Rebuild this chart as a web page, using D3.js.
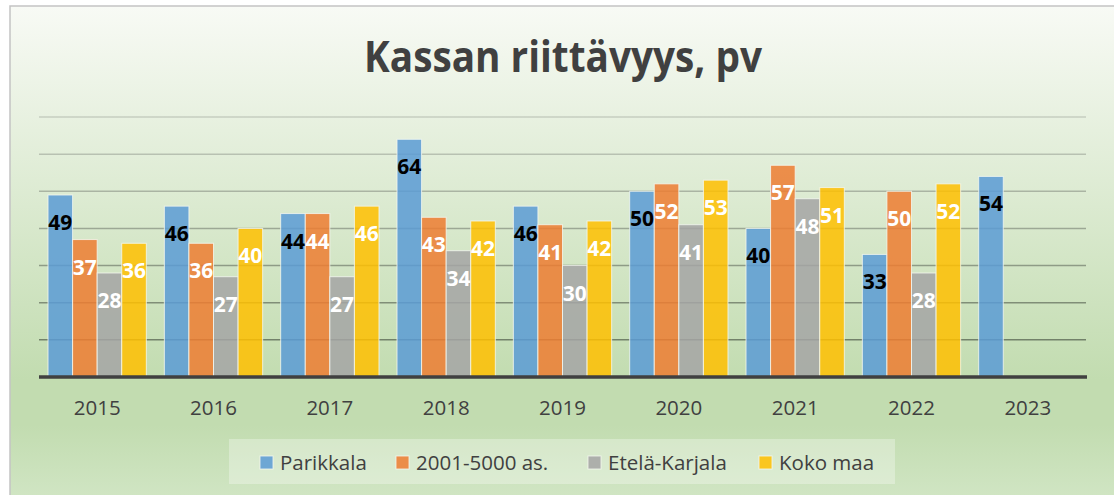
<!DOCTYPE html>
<html>
<head>
<meta charset="utf-8">
<script src="https://cdn.jsdelivr.net/npm/d3@7/dist/d3.min.js"></script>
<style>
  body { margin: 0; background: #fff; }
  svg { display: block; font-family: 'Open Sans', sans-serif; }
</style>
</head>
<body>
<svg id="chart"></svg>
<script>
var width = 1114;
var height = 495;

var years = ['2015', '2016', '2017', '2018', '2019', '2020', '2021', '2022', '2023'];
var seriesNames = ['Parikkala', '2001-5000 as.', 'Etelä-Karjala', 'Koko maa'];
var parikkala = [49, 46, 44, 64, 46, 50, 40, 33, 54];
var kunnat2001to5000 = [37, 36, 44, 43, 41, 52, 57, 50, null];
var etelaKarjala = [28, 27, 27, 34, 30, 41, 48, 28, null];
var kokoMaa = [36, 40, 46, 42, 42, 53, 51, 52, null];
var yTicks = [0, 10, 20, 30, 40, 50, 60, 70];

var seriesValues = [parikkala, kunnat2001to5000, etelaKarjala, kokoMaa];
var colors = ['#5B9BD5', '#ED7D31', '#A5A5A5', '#FFC000'];
var labelColors = ['#000', '#fff', '#fff', '#fff'];

var margin = { top: 117, bottom: 118, left: 39, right: 28 };

var svg = d3.select('#chart').attr('width', width).attr('height', height);
var defs = svg.append('defs');

var bg = defs.append('linearGradient').attr('id', 'bg')
  .attr('x1', 0).attr('y1', 0).attr('x2', 0).attr('y2', 1);
bg.append('stop').attr('offset', '0').attr('stop-color', '#f8faf5');
bg.append('stop').attr('offset', '0.74').attr('stop-color', '#c2dcb0');
bg.append('stop').attr('offset', '0.83').attr('stop-color', '#c2dcb0');
bg.append('stop').attr('offset', '1').attr('stop-color', '#d3e7c7');

var gridGrad = defs.append('linearGradient').attr('id', 'grid')
  .attr('gradientUnits', 'userSpaceOnUse')
  .attr('x1', 0).attr('y1', 117).attr('x2', 0).attr('y2', 340);
gridGrad.append('stop').attr('offset', '0').attr('stop-color', '#c6cec0');
gridGrad.append('stop').attr('offset', '1').attr('stop-color', '#728169');

// chart area
svg.append('rect')
  .attr('x', 10).attr('y', 6)
  .attr('width', width + 10).attr('height', height + 10)
  .attr('fill', 'url(#bg)')
  .attr('stroke', '#c3c3c3')
  .attr('stroke-width', 1.5);

svg.append('text')
  .attr('x', 563).attr('y', 72)
  .attr('text-anchor', 'middle')
  .attr('font-size', 43)
  .attr('font-weight', 'bold')
  .attr('fill', '#404040')
  .attr('textLength', 398)
  .attr('lengthAdjust', 'spacingAndGlyphs')
  .text('Kassan riittävyys, pv');

var x0 = d3.scaleBand().domain(years)
  .range([margin.left, width - margin.right])
  .paddingInner(0.155).paddingOuter(0.0775);
var x1 = d3.scaleBand().domain(d3.range(seriesNames.length))
  .range([0, x0.bandwidth()]);
var y = d3.scaleLinear().domain([0, 70])
  .range([height - margin.bottom, margin.top]);

// gridlines
svg.append('g').selectAll('line')
  .data(yTicks.slice(1))
  .enter().append('line')
  .attr('x1', margin.left).attr('x2', width - margin.right)
  .attr('y1', function(d) { return y(d); })
  .attr('y2', function(d) { return y(d); })
  .attr('stroke', 'url(#grid)')
  .attr('stroke-width', 1.5);

var rows = [];
seriesValues.forEach(function(vals, s) {
  vals.forEach(function(v, i) {
    if (v !== null) {
      rows.push({ year: years[i], series: s, value: v });
    }
  });
});

svg.append('g').selectAll('rect')
  .data(rows)
  .enter().append('rect')
  .attr('x', function(d) { return x0(d.year) + x1(d.series); })
  .attr('y', function(d) { return y(d.value); })
  .attr('width', x1.bandwidth())
  .attr('height', function(d) { return y(0) - y(d.value); })
  .attr('fill', function(d) { return colors[d.series]; })
  .attr('fill-opacity', 0.85)
  .attr('stroke', '#f4f7f0')
  .attr('stroke-opacity', 0.8)
  .attr('stroke-width', 1);

// baseline
svg.append('line')
  .attr('x1', margin.left).attr('x2', width - margin.right + 1)
  .attr('y1', y(0)).attr('y2', y(0))
  .attr('stroke', '#404040')
  .attr('stroke-width', 3.5);

svg.append('g').selectAll('text')
  .data(rows)
  .enter().append('text')
  .attr('x', function(d) { return x0(d.year) + x1(d.series) + x1.bandwidth() / 2; })
  .attr('y', function(d) { return y(d.value) + 27; })
  .attr('text-anchor', 'middle')
  .attr('dominant-baseline', 'central')
  .attr('font-size', 21)
  .attr('font-weight', 'bold')
  .attr('fill', function(d) { return labelColors[d.series]; })
  .text(function(d) { return d.value; });

// x axis
var xAxis = svg.append('g')
  .attr('transform', 'translate(0,' + y(0) + ')')
  .call(d3.axisBottom(x0).tickSize(0).tickPadding(0));
xAxis.select('.domain').remove();
xAxis.selectAll('text')
  .attr('y', 38)
  .attr('dy', 0)
  .attr('font-family', 'Open Sans, sans-serif')
  .attr('font-size', 20.5)
  .attr('fill', '#404040');

// legend
var legend = svg.append('g');
legend.append('rect')
  .attr('x', 229).attr('y', 439)
  .attr('width', 666).attr('height', 45)
  .attr('fill', '#ffffff').attr('fill-opacity', 0.3);
var legendX = [260, 396, 588, 759];
var item = legend.selectAll('.item')
  .data(seriesNames)
  .enter().append('g')
  .attr('transform', function(d, i) { return 'translate(' + legendX[i] + ',456)'; });
item.append('rect')
  .attr('width', 13).attr('height', 13)
  .attr('fill', function(d, i) { return colors[i]; })
  .attr('fill-opacity', 0.85)
  .attr('stroke', '#f4f7f0').attr('stroke-opacity', 0.8);
item.append('text')
  .attr('x', 20).attr('y', 13.5)
  .attr('font-size', 20.5)
  .attr('fill', '#404040')
  .text(function(d) { return d; });
</script>
</body>
</html>
